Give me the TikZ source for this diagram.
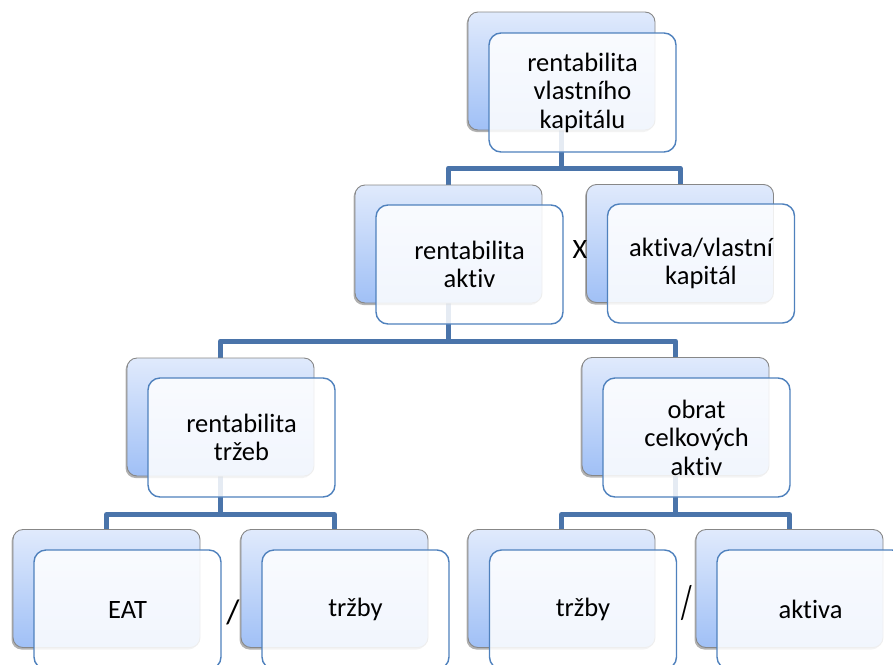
\documentclass[tikz,border=0pt]{standalone}
\usepackage{fontspec}
\setmainfont[Ligatures=NoCommon]{Carlito}
\usetikzlibrary{shadows}
\definecolor{connc}{RGB}{74,116,170}
\definecolor{bgtop}{RGB}{224,234,252}
\definecolor{bgbot}{RGB}{160,192,246}
\definecolor{backline}{RGB}{135,135,135}
\definecolor{frontline}{RGB}{79,129,189}
\pgfdeclarelayer{bg}
\pgfsetlayers{bg,main}
\tikzset{
  backbox/.style={rectangle, rounded corners=10pt, minimum width=187pt, minimum height=118pt,
    draw=backline, line width=0.9pt, top color=bgtop, bottom color=bgbot,
    drop shadow={shadow xshift=-1.5pt, shadow yshift=-2pt, opacity=0.3, fill=black}},
  frontbox/.style={rectangle, rounded corners=12pt, minimum width=187pt, minimum height=119pt,
    draw=frontline, line width=1.4pt, fill=white, fill opacity=0.86, text opacity=1,
    text=black, align=center, inner sep=0pt,
    font=\fontsize{26.5}{28.5}\selectfont},
  conn/.style={draw=connc, line width=5pt, line join=round},
  optext/.style={inner sep=0pt, text=black}
}
\begin{document}
\begin{tikzpicture}[x=1pt,y=-1pt]
\useasboundingbox (0,0) rectangle (893,664);
% boxes
\node[backbox] (A) at (561.5,71) {};
\node[frontbox] (Af) at (582.5,92.5) {rentabilita\\vlastního\\kapitálu};
\node[backbox] (B) at (448.5,244) {};
\node[frontbox] (Bf) at (469.5,264.5) {rentabilita\\aktiv};
\node[backbox] (C) at (680,243.5) {};
\node[frontbox] (Cf) at (701,263.5) {aktiva/vlastní\\kapitál};
\node[backbox] (D) at (220.5,417) {};
\node[frontbox] (Df) at (241.5,437.5) {rentabilita\\tržeb};
\node[backbox] (E) at (675.5,416.5) {};
\node[frontbox] (Ef) at (696.5,437.5) {obrat\\celkových\\aktiv};
\node[backbox] (F) at (106.5,588.5) {};
\node[frontbox] (Ff) at (127.5,609.5) {EAT};
\node[backbox] (G) at (334.5,588.5) {};
\node[frontbox] (Gf) at (355.5,609.5) {tržby};
\node[backbox] (H) at (561.5,588.5) {};
\node[frontbox] (Hf) at (583,609.5) {tržby};
\node[backbox] (I) at (789.5,588.5) {};
\node[frontbox] (If) at (810.5,609.5) {aktiva};
% operators
\node[optext, font=\fontsize{28}{28.5}\selectfont] (x1) at (580,250) {X};
\node[optext, font=\fontsize{34}{34}\selectfont] (s1) at (233,612) {/};
\node[optext, font=\fontsize{34}{34}\selectfont] (s2) at (687,603) {\scalebox{0.8}[1.4]{/}};
% connectors
\coordinate (jA) at (561.5,168);
\coordinate (jB) at (448.5,341);
\coordinate (jD) at (220.5,514.5);
\coordinate (jE) at (675.5,514.5);
\begin{pgfonlayer}{bg}
\draw[conn] (A.south) -- (jA) -| (B.north);
\draw[conn] (jA) -| (C.north);
\draw[conn] (B.south) -- (jB) -| (D.north);
\draw[conn] (jB) -| (E.north);
\draw[conn] (D.south) -- (jD) -| (F.north);
\draw[conn] (jD) -| (G.north);
\draw[conn] (E.south) -- (jE) -| (H.north);
\draw[conn] (jE) -| (I.north);
\end{pgfonlayer}
\end{tikzpicture}
\end{document}
